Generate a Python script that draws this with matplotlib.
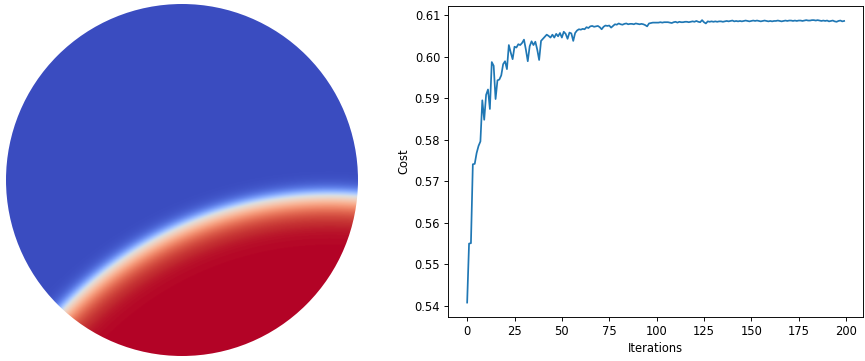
import numpy as np
import matplotlib
matplotlib.use("Agg")
from matplotlib import pyplot as plt
from matplotlib.patches import Circle

DPI = 83

# cost per iteration
cost = [
    0.5408, 0.5550, 0.5551, 0.5741, 0.5742, 0.5768, 0.5785, 0.5796, 0.5895, 0.5848,
    0.5908, 0.5921, 0.5874, 0.5987, 0.5978, 0.5898, 0.5943, 0.5945, 0.5955, 0.5982,
    0.5989, 0.5970, 0.6028, 0.6010, 0.5994, 0.6024, 0.6022, 0.6030, 0.6028, 0.6033,
    0.6041, 0.6017, 0.5989, 0.6025, 0.6037, 0.6028, 0.6036, 0.6017, 0.5992, 0.6038,
    0.6043, 0.6048, 0.6053, 0.6050, 0.6046, 0.6053, 0.6046, 0.6055, 0.6049, 0.6057,
    0.6046, 0.6060, 0.6055, 0.6043, 0.6058, 0.6056, 0.6038, 0.6057, 0.6063, 0.6066,
    0.6065, 0.6067, 0.6066, 0.6071, 0.6069, 0.6073, 0.6074, 0.6072, 0.6073, 0.6074,
    0.6071, 0.6066, 0.6072, 0.6075, 0.6074, 0.6075, 0.6070, 0.6074, 0.6078, 0.6077,
    0.6080, 0.6078, 0.6077, 0.6079, 0.6080, 0.6078, 0.6079, 0.6079, 0.6078, 0.6080,
    0.6079, 0.6078, 0.6079, 0.6078, 0.6076, 0.6073, 0.6080, 0.6081, 0.6082, 0.6082,
    0.6082, 0.6082, 0.6083, 0.6082, 0.6083, 0.6083, 0.6083, 0.6082, 0.6081, 0.6083,
    0.6084, 0.6082, 0.6084, 0.6083, 0.6083, 0.6084, 0.6084, 0.6083, 0.6084, 0.6085,
    0.6084, 0.6086, 0.6084, 0.6083, 0.6088, 0.6083, 0.6080, 0.6085, 0.6084, 0.6085,
    0.6084, 0.6085, 0.6084, 0.6085, 0.6085, 0.6084, 0.6085, 0.6086, 0.6085, 0.6086,
    0.6087, 0.6085, 0.6086, 0.6085, 0.6086, 0.6085, 0.6086, 0.6087, 0.6086, 0.6085,
    0.6086, 0.6087, 0.6086, 0.6087, 0.6086, 0.6085, 0.6086, 0.6087, 0.6086, 0.6085,
    0.6086, 0.6085, 0.6086, 0.6086, 0.6087, 0.6086, 0.6085, 0.6086, 0.6087, 0.6086,
    0.6087, 0.6087, 0.6086, 0.6087, 0.6086, 0.6087, 0.6087, 0.6086, 0.6087, 0.6088,
    0.6087, 0.6087, 0.6088, 0.6088, 0.6087, 0.6088, 0.6087, 0.6086, 0.6087, 0.6086,
    0.6087, 0.6085, 0.6086, 0.6087, 0.6085, 0.6084, 0.6086, 0.6087, 0.6085, 0.6086,
]
iterations = np.arange(len(cost))

# red region on the disk: inside a circle (units of disk radius)
arc_center = (0.84, -2.18)
arc_radius = 2.09
width_blue = 0.05   # blur on the outer (blue) side
width_red = 0.10    # blur on the inner (red) side

fig = plt.figure(figsize=(865 / DPI, 361 / DPI), dpi=DPI)

# left: field on the unit disk
ax = fig.add_axes([6 / 865, 5 / 361, 352 / 865, 352 / 361])
g = np.linspace(-1, 1, 600)
X, Y = np.meshgrid(g, g)
d = np.hypot(X - arc_center[0], Y - arc_center[1]) - arc_radius
field = np.where(d > 0, -np.tanh(d / width_blue), -np.tanh(d / width_red))
im = ax.imshow(field, origin='lower', extent=(-1, 1, -1, 1), cmap='coolwarm',
               vmin=-1, vmax=1, interpolation='bilinear')
im.set_clip_path(Circle((0, 0), 1, transform=ax.transData))
ax.set_xlim(-1, 1)
ax.set_ylim(-1, 1)
ax.axis('off')

# right: cost curve
ax2 = fig.add_axes([448.3 / 865, 44.3 / 361, 414.7 / 865, 310.7 / 361])
ax2.plot(iterations, cost)
ax2.set_xlabel("Iterations")
ax2.set_ylabel("Cost")

fig.savefig("out.png", dpi=DPI)
